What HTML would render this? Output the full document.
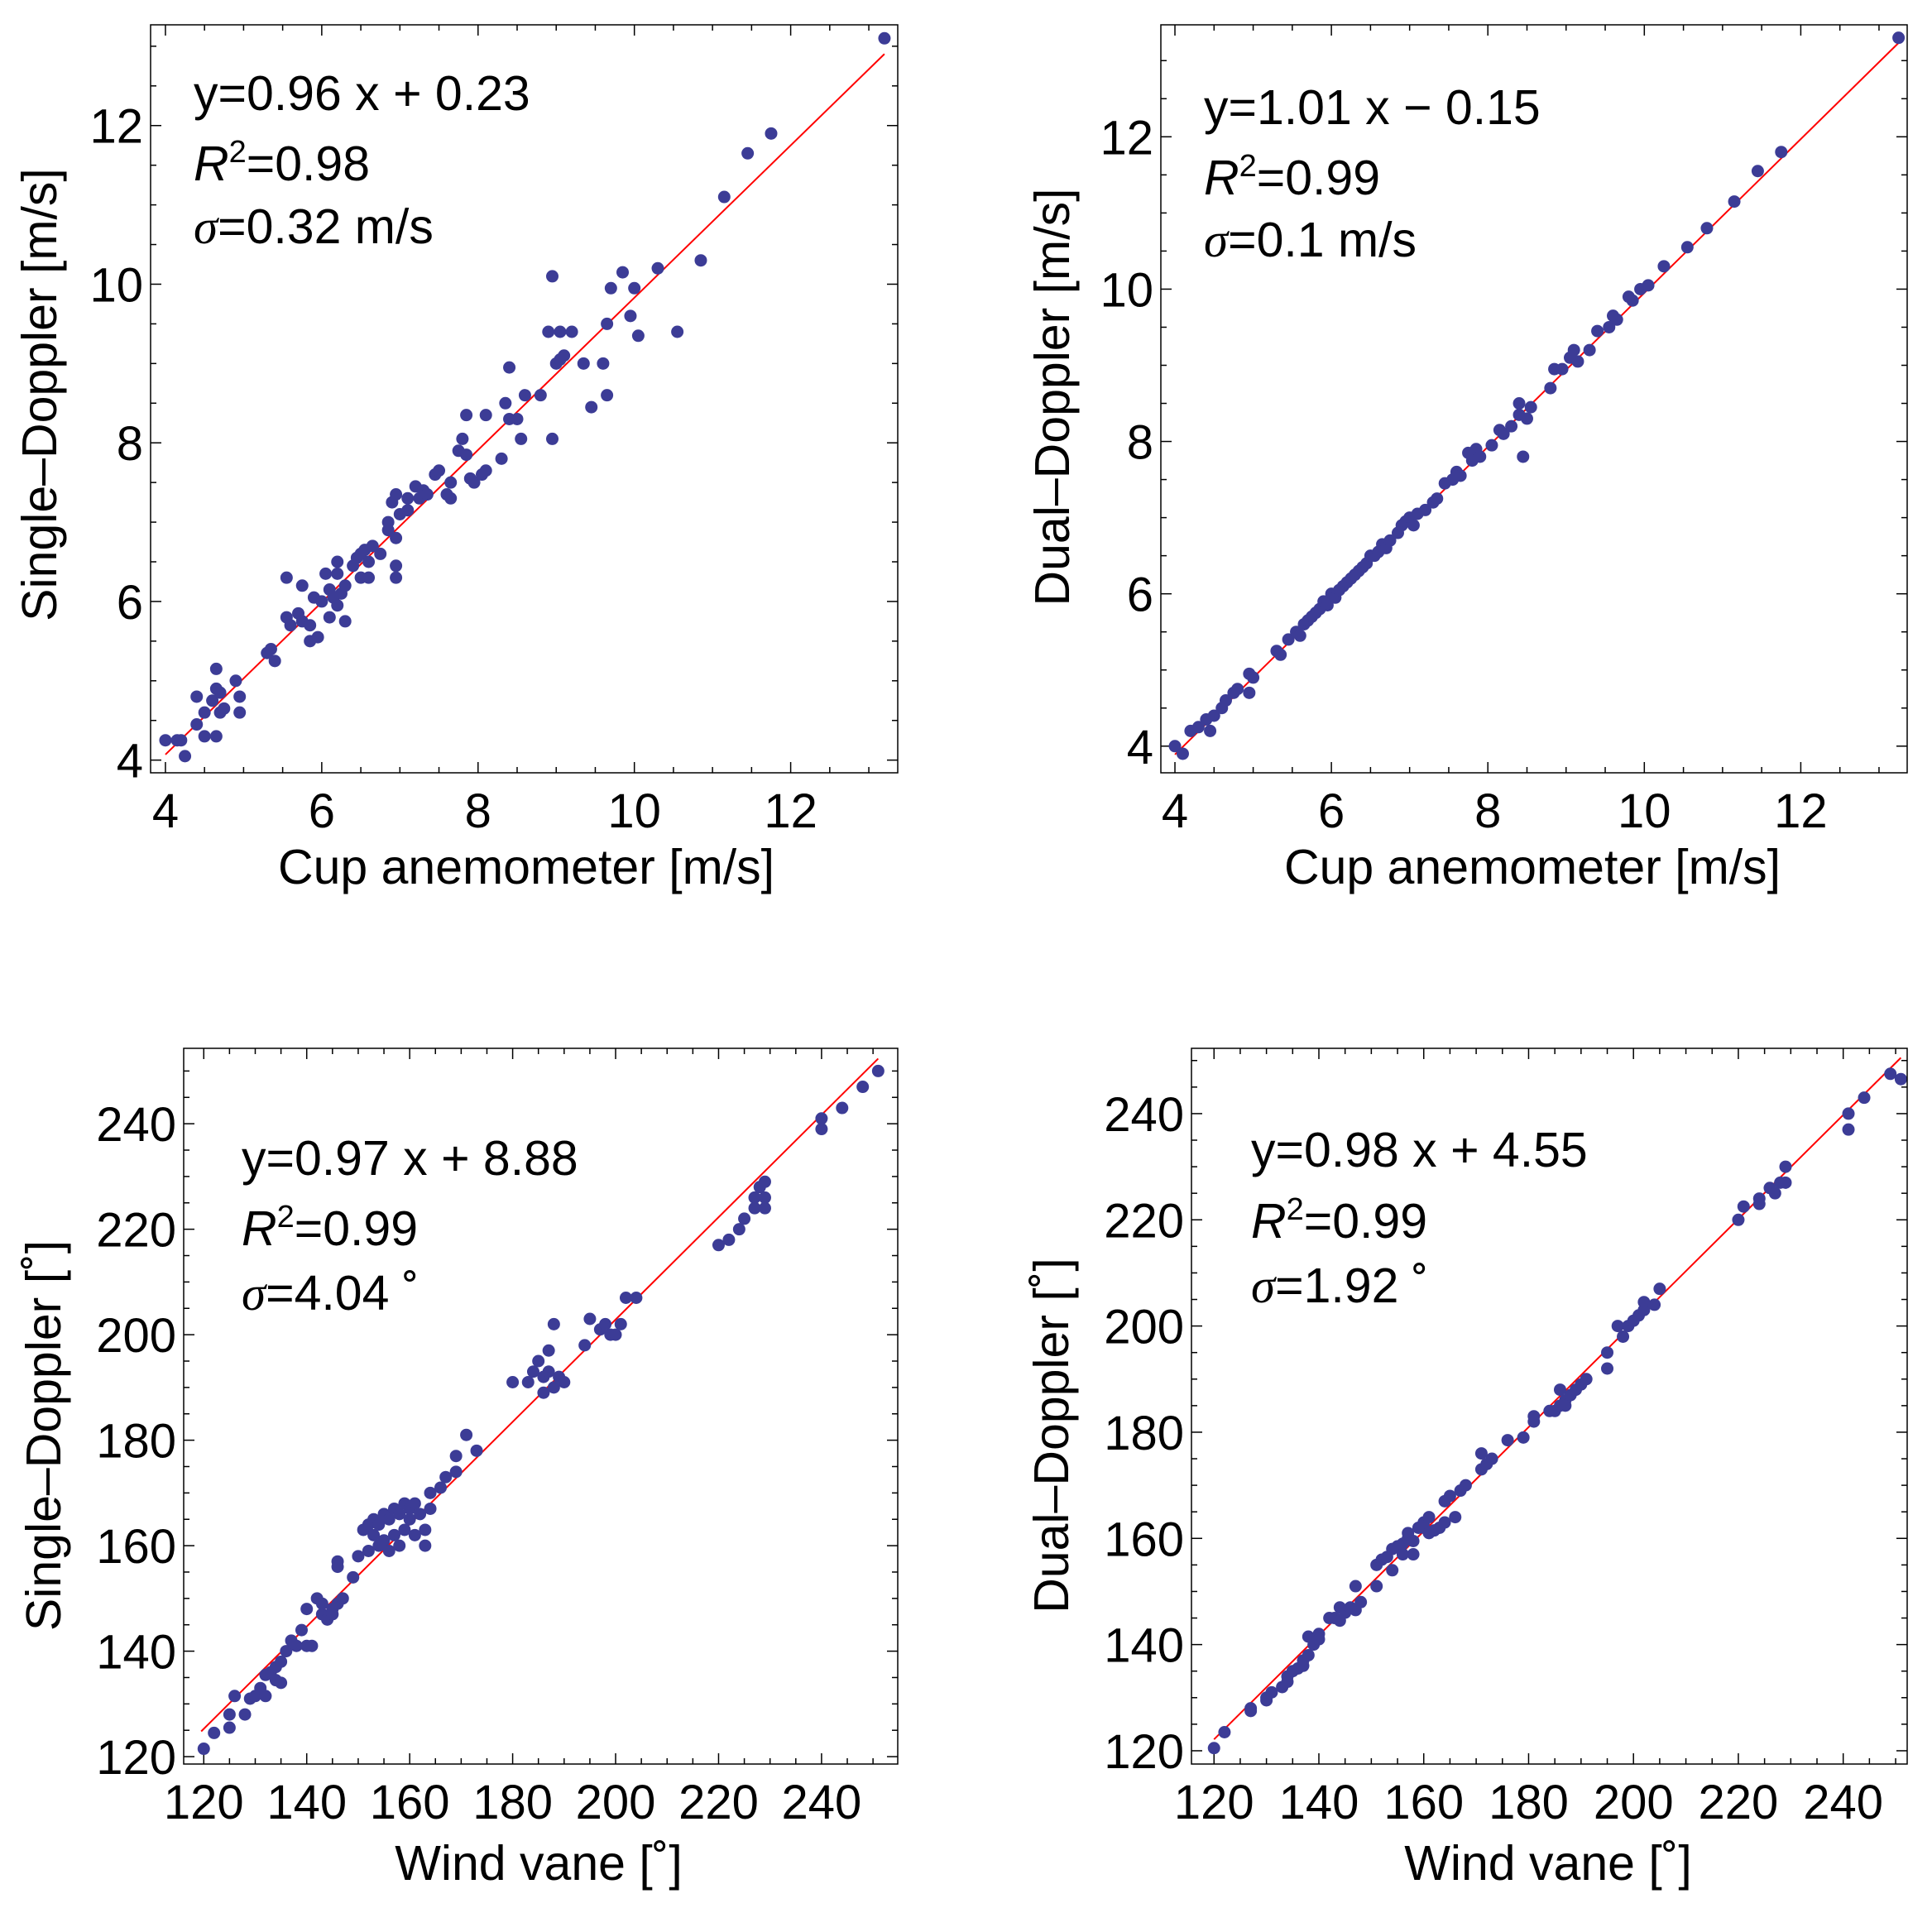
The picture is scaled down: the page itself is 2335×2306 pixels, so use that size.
<!DOCTYPE html>
<html><head><meta charset="utf-8"><style>
html,body{margin:0;padding:0;background:#fff;}
svg{display:block;font-family:"Liberation Sans",Arial,sans-serif;}
</style></head><body>
<svg id="chart" width="2335" height="2306" viewBox="0 0 2335 2306" xmlns="http://www.w3.org/2000/svg"></svg>
<script>
// ---- data ----
const speedSinglePts = [[4.0,4.25],[4.15,4.25],[4.2,4.25],[4.25,4.05],[4.4,4.8],[4.4,4.45],[4.5,4.6],[4.5,4.3],[4.6,4.75],[4.65,4.3],[4.65,5.15],[4.65,4.9],[4.7,4.6],[4.75,4.65],[4.7,4.85],[4.9,5.0],[4.95,4.8],[4.95,4.6],[5.3,5.35],[5.35,5.4],[5.4,5.25],[5.55,6.3],[5.55,5.8],[5.6,5.7],[5.7,5.85],[5.75,5.75],[5.75,6.2],[5.85,5.5],[5.85,5.7],[5.9,6.05],[5.95,5.55],[6.0,6.0],[6.05,6.35],[6.1,5.8],[6.1,6.15],[6.15,6.05],[6.2,6.5],[6.2,6.35],[6.2,5.95],[6.25,6.1],[6.3,6.2],[6.3,5.75],[6.4,6.45],[6.45,6.55],[6.5,6.6],[6.5,6.3],[6.55,6.65],[6.6,6.5],[6.6,6.3],[6.65,6.7],[6.75,6.6],[6.85,7.0],[6.85,6.9],[6.9,7.25],[6.95,7.35],[6.95,6.8],[6.95,6.45],[6.95,6.3],[7.0,7.1],[7.1,7.15],[7.1,7.3],[7.2,7.45],[7.25,7.3],[7.3,7.4],[7.35,7.35],[7.45,7.6],[7.5,7.65],[7.6,7.35],[7.65,7.3],[7.65,7.5],[7.75,7.9],[7.8,8.05],[7.85,7.85],[7.85,8.35],[7.9,7.55],[7.95,7.5],[8.05,7.6],[8.1,7.65],[8.1,8.35],[8.3,7.8],[8.35,8.5],[8.4,8.3],[8.4,8.95],[8.5,8.3],[8.55,8.05],[8.6,8.6],[8.8,8.6],[8.9,9.4],[8.95,10.1],[8.95,8.05],[9.0,9.0],[9.05,9.05],[9.05,9.4],[9.1,9.1],[9.2,9.4],[9.35,9.0],[9.45,8.45],[9.6,9.0],[9.65,9.5],[9.65,8.6],[9.7,9.95],[9.85,10.15],[9.95,9.6],[10.0,9.95],[10.05,9.35],[10.3,10.2],[10.55,9.4],[10.85,10.3],[11.15,11.1],[11.45,11.65],[11.75,11.9],[13.2,13.1]];
const speedDualPts = [[4.0,4.0],[4.1,3.9],[4.2,4.2],[4.3,4.25],[4.4,4.35],[4.45,4.2],[4.5,4.4],[4.6,4.5],[4.65,4.6],[4.75,4.7],[4.8,4.75],[4.95,4.95],[5.0,4.9],[4.95,4.7],[5.3,5.25],[5.35,5.2],[5.45,5.4],[5.55,5.5],[5.6,5.45],[5.65,5.6],[5.7,5.65],[5.75,5.7],[5.8,5.75],[5.85,5.8],[5.9,5.9],[5.95,5.85],[6.0,6.0],[6.05,5.95],[6.1,6.05],[6.15,6.1],[6.2,6.15],[6.25,6.2],[6.3,6.25],[6.35,6.3],[6.4,6.35],[6.45,6.4],[6.5,6.5],[6.55,6.5],[6.6,6.55],[6.65,6.65],[6.7,6.6],[6.75,6.7],[6.85,6.8],[6.9,6.9],[6.95,6.95],[7.0,7.0],[7.05,6.9],[7.1,7.05],[7.2,7.1],[7.3,7.2],[7.35,7.25],[7.45,7.45],[7.55,7.5],[7.6,7.6],[7.65,7.55],[7.75,7.85],[7.8,7.75],[7.85,7.9],[7.9,7.8],[8.05,7.95],[8.15,8.15],[8.2,8.1],[8.3,8.2],[8.4,8.5],[8.4,8.35],[8.45,7.8],[8.5,8.3],[8.55,8.45],[8.8,8.7],[8.85,8.95],[8.95,8.95],[9.05,9.1],[9.1,9.2],[9.15,9.05],[9.3,9.2],[9.4,9.45],[9.55,9.5],[9.6,9.65],[9.65,9.6],[9.8,9.9],[9.85,9.85],[9.95,10.0],[10.05,10.05],[10.25,10.3],[10.55,10.55],[10.8,10.8],[11.15,11.15],[11.45,11.55],[11.75,11.8],[13.25,13.3]];
const dirSinglePts = [[120,121.5],[122,124.5],[125,125.5],[125,128],[126,131.5],[128,128],[129,131],[130,131.5],[131,133],[132,131.5],[132,135.5],[133,136],[134,134.5],[134,137],[135,134],[135,138],[136,140],[137,142],[138,141],[139,144],[140,141],[140,148],[141,141],[142,150],[143,147],[143,149],[144,146],[145,148],[145,147],[146,149],[146,156],[146,157],[147,150],[149,154],[150,158],[151,163],[152,159],[152,164],[153,162],[153,165],[154,164],[154,160],[155,166],[155,161],[156,165],[156,159],[157,162],[157,167],[158,166],[158,160],[159,163],[159,168],[160,165],[160,167],[161,168],[161,162],[162,166],[163,163],[163,160],[164,170],[164,167],[166,171],[167,173],[169,174],[169,177],[171,181],[173,178],[180,191],[183,191],[184,193],[185,195],[186,189],[186,192],[187,193],[187,197],[188,190],[188,202],[189,192],[190,191],[194,198],[195,203],[197,201],[198,202],[199,200],[200,200],[201,202],[202,207],[204,207],[220,217],[222,218],[224,220],[225,222],[227,224],[227,226],[228,228],[229,226],[229,229],[229,224],[240,239],[240,241],[244,243],[248,247],[251,250]];
const dirDualPts = [[120,120.5],[122,123.5],[127,127.5],[127,128],[130,130],[130,129.5],[131,131],[133,132],[134,133],[134,134],[135,135],[136,135.5],[137,136],[137,137],[138,138],[138,141.5],[139,140],[140,142],[140,141],[142,145],[143,145],[144,147],[144,144.5],[145,146],[146,147],[147,146.5],[147,151],[148,148],[151,151],[151,155],[152,156],[153,156.5],[154,154],[154,158],[155,158.5],[156,159],[156,157],[157,160],[157,161],[158,157],[158,159.5],[159,162],[160,162],[160,163],[161,164],[161,161],[162,161.5],[163,162],[164,163],[164,167],[165,168],[166,164],[167,169],[168,170],[171,176],[171,173],[172,174],[173,175],[176,178.5],[179,179],[181,182],[181,183],[184,184],[185,184],[186,185],[186,188],[187,186],[187,185],[188,187],[189,188],[190,189],[191,190],[195,195],[195,192],[197,200],[198,198],[199,200],[200,201],[201,202],[202,203],[202,204.5],[204,204],[205,207],[220,220],[221,222.5],[224,224],[224,223],[226,226],[227,225],[228,227],[229,227],[229,230],[241,240],[241,237],[244,243],[249,247.5],[251,246.5]];
const speedTicks = [4,6,8,10,12];
const dirTicks = [120,140,160,180,200,220,240];
const fitSlopes = [0.96,1.01,0.97,0.98];
const fitIntercepts = [0.23,-0.15,8.88,4.55];
const fitRanges = [[4,13.2],[4,13.25],[119.5,251],[120,251]];

const NS='http://www.w3.org/2000/svg';
const svg=document.getElementById('chart');
function mk(tag,attrs,parent){const e=document.createElementNS(NS,tag);for(const k in attrs)e.setAttribute(k,attrs[k]);(parent||svg).appendChild(e);return e;}

const panels=[
 {name:'speed-single',pts:speedSinglePts,ticks:speedTicks,minor:0.5,L:182,R:1085,T:30,B:934,x0:3.81,x1:13.37,y0:3.84,y1:13.27,
  xt:'Cup anemometer [m/s]',yt:'Single\u2013Doppler [m/s]',xtX:636,xtY:1068,ytX:68,ytY:477,
  ann:['y=0.96 x + 0.23','0.98','0.32 m/s'],annX:234,annY:[133,218,294]},
 {name:'speed-dual',pts:speedDualPts,ticks:speedTicks,minor:0.5,L:1403,R:2305,T:30,B:934,x0:3.82,x1:13.36,y0:3.65,y1:13.47,
  xt:'Cup anemometer [m/s]',yt:'Dual\u2013Doppler [m/s]',xtX:1852,xtY:1068,ytX:1292,ytY:480,
  ann:['y=1.01 x \u2212 0.15','0.99','0.1 m/s'],annX:1455,annY:[150,235,310]},
 {name:'direction-single',pts:dirSinglePts,ticks:dirTicks,minor:5,L:222,R:1085,T:1267,B:2132,x0:116.1,x1:254.8,y0:118.6,y1:254.3,
  xt:'Wind vane [\u02da]',yt:'Single\u2013Doppler [\u02da]',xtX:651,xtY:2272,ytX:73,ytY:1735,
  ann:['y=0.97 x + 8.88','0.99','4.04 \u02da'],annX:292,annY:[1420,1505,1583]},
 {name:'direction-dual',pts:dirDualPts,ticks:dirTicks,minor:5,L:1440,R:2305,T:1267,B:2132,x0:115.7,x1:252.2,y0:117.5,y1:252.3,
  xt:'Wind vane [\u02da]',yt:'Dual\u2013Doppler [\u02da]',xtX:1871,xtY:2272,ytX:1291,ytY:1735,
  ann:['y=0.98 x + 4.55','0.99','1.92 \u02da'],annX:1512,annY:[1410,1496,1574]}
];

panels.forEach((p,i)=>{
 const g=mk('g',{});
 
 
 const sx=v=>p.L+(v-p.x0)/(p.x1-p.x0)*(p.R-p.L);
 const sy=v=>p.B-(v-p.y0)/(p.y1-p.y0)*(p.B-p.T);
 const step=p.ticks[1]-p.ticks[0];
 const tk=mk('g',{stroke:'#000','stroke-width':1.5},g);
 
 
 for(let v=Math.ceil(p.x0/p.minor)*p.minor;v<=p.x1+1e-9;v+=p.minor){
  const major=Math.abs(v/step-Math.round(v/step))<1e-6;
  const len=major?13:7, x=sx(v);
  mk('line',{x1:x,y1:p.B,x2:x,y2:p.B-len},tk);
  mk('line',{x1:x,y1:p.T,x2:x,y2:p.T+len},tk);
 }
 for(let v=Math.ceil(p.y0/p.minor)*p.minor;v<=p.y1+1e-9;v+=p.minor){
  const major=Math.abs(v/step-Math.round(v/step))<1e-6;
  const len=major?13:7, y=sy(v);
  mk('line',{x1:p.L,y1:y,x2:p.L+len,y2:y},tk);
  mk('line',{x1:p.R,y1:y,x2:p.R-len,y2:y},tk);
 }
 p.ticks.forEach(v=>{
  const t=mk('text',{x:sx(v),y:p.B+66,'font-size':58,'text-anchor':'middle'},g);t.textContent=v;
  
  
  const u=mk('text',{x:p.L-9,y:sy(v)+21,'font-size':58,'text-anchor':'end'},g);u.textContent=v;
  
  
 });
 const fl=mk('line',{x1:sx(fitRanges[i][0]),y1:sy(fitSlopes[i]*fitRanges[i][0]+fitIntercepts[i]),x2:sx(fitRanges[i][1]),y2:sy(fitSlopes[i]*fitRanges[i][1]+fitIntercepts[i]),stroke:'#ff0000','stroke-width':2},g);
 
 
 p.pts.forEach(d=>{
  const c=mk('circle',{cx:sx(d[0]),cy:sy(d[1]),r:7.5,fill:'#3c3c96'},g);
  
  
 });
 const fr=mk('rect',{x:p.L,y:p.T,width:p.R-p.L,height:p.B-p.T,fill:'none',stroke:'#000','stroke-width':1.5},g);
 
 
 const xt=mk('text',{x:p.xtX,y:p.xtY,'font-size':59,'text-anchor':'middle'},g);xt.textContent=p.xt;
 
 
 const yt=mk('text',{x:p.ytX,y:p.ytY,'font-size':59,'text-anchor':'middle',transform:`rotate(-90 ${p.ytX} ${p.ytY})`},g);yt.textContent=p.yt;
 
 
 const a1=mk('text',{x:p.annX,y:p.annY[0],'font-size':59},g);a1.textContent=p.ann[0];
 
 
 const a2=mk('text',{x:p.annX,y:p.annY[1],'font-size':59},g);
 a2.innerHTML='<tspan font-style="italic">R</tspan><tspan dy="-22" font-size="38">2</tspan><tspan dy="22">='+p.ann[1]+'</tspan>';
 
 
 const a3=mk('text',{x:p.annX,y:p.annY[2],'font-size':59},g);
 a3.innerHTML='<tspan font-family="Liberation Serif" font-style="italic">\u03c3</tspan>='+p.ann[2];
 
 
});
</script>
</body></html>
